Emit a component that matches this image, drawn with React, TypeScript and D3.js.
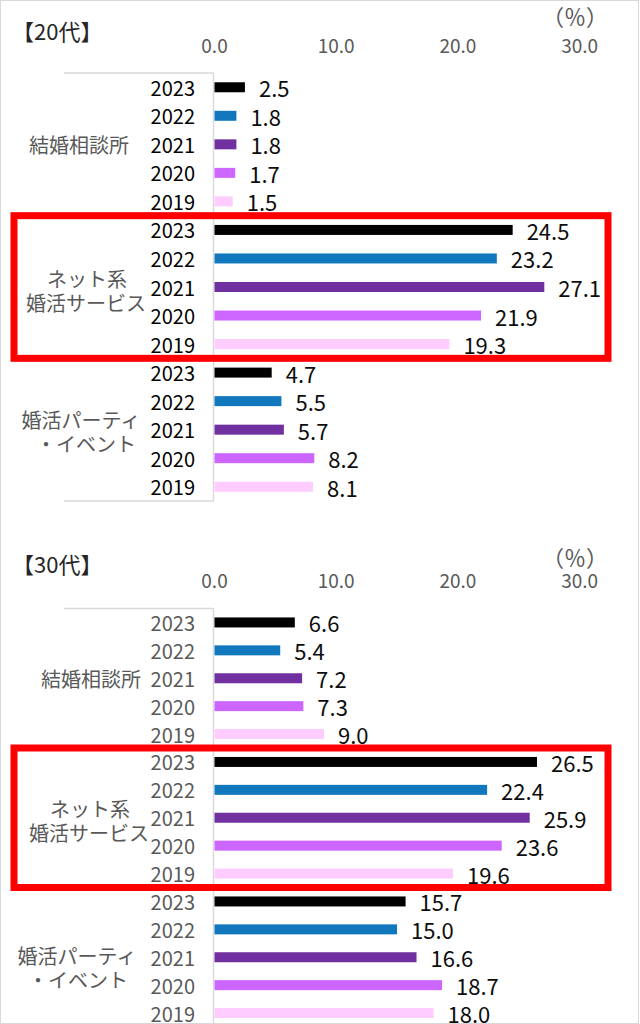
import React from "react";
import * as d3 from "d3";

const years = ["2023", "2022", "2021", "2020", "2019"];
const categories = ["結婚相談所", "ネット系婚活サービス", "婚活パーティ・イベント"];
const categoryLines = [["結婚相談所"], ["ネット系", "婚活サービス"], ["婚活パーティ", "・イベント"]];
const yearColors = ["#000000", "#1178BE", "#7030A0", "#CC66FF", "#FFCCFF"];
const ticks = [0, 10, 20, 30];

const values20s = [
  [2.5, 1.8, 1.8, 1.7, 1.5],
  [24.5, 23.2, 27.1, 21.9, 19.3],
  [4.7, 5.5, 5.7, 8.2, 8.1],
];
const values30s = [
  [6.6, 5.4, 7.2, 7.3, 9.0],
  [26.5, 22.4, 25.9, 23.6, 19.6],
  [15.7, 15.0, 16.6, 18.7, 18.0],
];

const FONT = "'Noto Sans CJK JP', 'Noto Sans', sans-serif";

type PanelProps = {
  title: string;
  values: number[][];
  top: number;
  bottom: number;
  titleY: number;
  pctY: number;
  tickY: number;
  yearColor: string;
  labelX: number[][];
  labelDy: number[];
  closed: boolean;
};

function Panel(p: PanelProps) {
  const x = d3.scaleLinear().domain([0, 30]).range([214.5, 579.6]);
  const rows: { key: string; cat: number; yi: number; v: number }[] = [];
  categories.forEach((c, ci) =>
    years.forEach((yr, yi) => rows.push({ key: c + yr, cat: ci, yi, v: p.values[ci][yi] }))
  );
  const y = d3.scaleBand().domain(rows.map((r) => r.key)).range([p.top, p.bottom]).padding(0);
  const bw = y.bandwidth();
  const barH = 10;
  const axisX = 213.5;
  const hl = categories[1];
  const boxTop = y(hl + years[0])!;
  const boxBot = y(hl + years[4])! + bw;
  return (
    <g>
      <text x={12} y={p.titleY} fontSize={22} fill="#262626" dominantBaseline="central">
        {p.title}
      </text>
      <text x={575} y={p.pctY} fontSize={22} fill="#595959" textAnchor="middle" dominantBaseline="central">
        （％）
      </text>
      {ticks.map((t) => (
        <text key={t} x={x(t)} y={p.tickY} fontSize={19} fill="#595959" textAnchor="middle" dominantBaseline="central">
          {t.toFixed(1)}
        </text>
      ))}
      <line x1={64} x2={axisX} y1={p.top} y2={p.top} stroke="#d9d9d9" strokeWidth={1.5} />
      <line x1={axisX} x2={axisX} y1={p.top} y2={p.closed ? p.bottom : 1024} stroke="#d9d9d9" strokeWidth={1.5} />
      {p.closed && <line x1={64} x2={axisX} y1={p.bottom} y2={p.bottom} stroke="#d9d9d9" strokeWidth={1.5} />}
      {rows.map((r) => {
        const cy = y(r.key)! + bw / 2;
        return (
          <g key={r.key}>
            <rect x={x(0)} y={cy - barH / 2} width={x(r.v) - x(0)} height={barH} fill={yearColors[r.yi]} />
            <text x={195} y={cy} fontSize={20} fill={p.yearColor} textAnchor="end" dominantBaseline="central">
              {years[r.yi]}
            </text>
            <text x={x(r.v) + 14} y={cy} fontSize={22} fill="#0d0d0d" dominantBaseline="central">
              {r.v.toFixed(1)}
            </text>
          </g>
        );
      })}
      {categoryLines.map((lines, ci) => {
        const mid = y(categories[ci] + years[2])! + bw / 2 + p.labelDy[ci];
        return lines.map((ln, li) => (
          <text
            key={ci + "-" + li}
            x={p.labelX[ci][li]}
            y={mid + (li - (lines.length - 1) / 2) * 24}
            fontSize={20}
            fill="#595959"
            textAnchor="middle"
            dominantBaseline="central"
          >
            {ln}
          </text>
        ));
      })}
      <rect x={14} y={boxTop} width={594} height={boxBot - boxTop} fill="none" stroke="#FF0000" strokeWidth={7} />
    </g>
  );
}

export default function App() {
  return (
    <svg
      width={640}
      height={1024}
      style={{ position: "absolute", left: 0, top: 0, fontFamily: FONT, background: "#fff" }}
    >
      <rect x={0.5} y={0.5} width={638} height={1023} fill="#fff" stroke="#d9d9d9" strokeWidth={1} />
      <Panel
        title="【20代】"
        values={values20s}
        top={73}
        bottom={501}
        titleY={30}
        pctY={15}
        tickY={44}
        yearColor="#000000"
        labelX={[[79], [87, 86], [81, 86]]}
        labelDy={[0, 3, 2]}
        closed={true}
      />
      <Panel
        title="【30代】"
        values={values30s}
        top={608.5}
        bottom={1027}
        titleY={563}
        pctY={556}
        tickY={579}
        yearColor="#595959"
        labelX={[[91], [90, 89], [77, 78]]}
        labelDy={[0, 3, 10]}
        closed={false}
      />
    </svg>
  );
}
